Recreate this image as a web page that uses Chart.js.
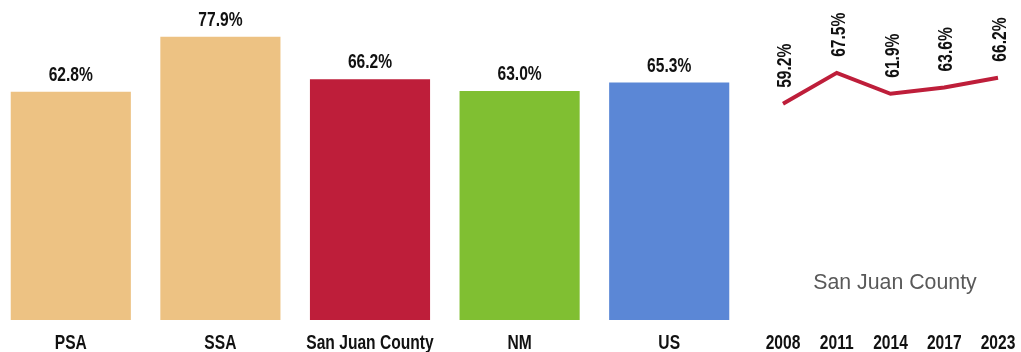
<!DOCTYPE html>
<html>
<head>
<meta charset="utf-8">
<script src="https://cdn.jsdelivr.net/npm/chart.js@4.4.1/dist/chart.umd.min.js"></script>
<style>
  html, body { margin: 0; padding: 0; background: #fff; overflow: hidden; }
  #barBox { position: absolute; left: -4px; top: 0; width: 748px; height: 352px; }
  #lineBox { position: absolute; left: 760px; top: 0; width: 261px; height: 352px; }
</style>
</head>
<body>
<div id="barBox"><canvas id="barChart"></canvas></div>
<div id="lineBox"><canvas id="lineChart"></canvas></div>
<script>
// bar chart data
const areas = ["PSA", "SSA", "San Juan County", "NM", "US"];
const areaValues = [62.8, 77.9, 66.2, 63.0, 65.3];
const areaColors = ["#EDC283", "#EDC283", "#BE1E3A", "#80BF32", "#5B87D6"];

// trend data (San Juan County)
const years = ["2008", "2011", "2014", "2017", "2023"];
const trendValues = [59.2, 67.5, 61.9, 63.6, 66.2];
const trendTitle = "San Juan County";

// no Arial Narrow here, so squeeze Liberation Sans Bold like Arial Narrow does
const boldFont = 'bold 19.5px "Liberation Sans", Arial, sans-serif';
const squeeze = 0.8;

function narrowText(ctx, txt, x, y, rotate, align) {
    ctx.save();
    ctx.translate(x, y);
    if (rotate) ctx.rotate(-Math.PI / 2);
    ctx.scale(squeeze, 1);
    ctx.font = boldFont;
    ctx.fillStyle = "#111";
    ctx.textAlign = align;
    ctx.textBaseline = "alphabetic";
    ctx.fillText(txt, 0, 0);
    ctx.restore();
}

// % labels above bars / points, and the category labels under the plot
const valueLabels = {
    id: "valueLabels",
    afterDatasetsDraw(chart, args, opts) {
        const ctx = chart.ctx;
        const meta = chart.getDatasetMeta(0);
        const data = chart.data.datasets[0].data;
        meta.data.forEach((el, i) => {
            const txt = data[i].toFixed(1) + "%";
            if (opts.rotate) {
                narrowText(ctx, txt, el.x + 8, el.y - 16, true, "left");
            } else {
                narrowText(ctx, txt, el.x, el.y - 11, false, "center");
            }
        });
        const xs = chart.scales.x;
        chart.data.labels.forEach((lab, i) => {
            narrowText(ctx, lab, xs.getPixelForTick(i), 349, false, "center");
        });
    }
};

// gray caption inside the small chart
const captionText = {
    id: "captionText",
    afterDraw(chart, args, opts) {
        if (!opts.text) return;
        const ctx = chart.ctx;
        ctx.save();
        ctx.fillStyle = "#595959";
        ctx.font = '21.3px "Liberation Sans", Arial, sans-serif';
        ctx.textAlign = "center";
        ctx.textBaseline = "middle";
        ctx.fillText(opts.text, opts.x, opts.y);
        ctx.restore();
    }
};

new Chart(document.getElementById("barChart"), {
    type: "bar",
    data: {
        labels: areas,
        datasets: [{
            data: areaValues,
            backgroundColor: areaColors,
            barPercentage: 0.803,
            categoryPercentage: 1
        }]
    },
    options: {
        responsive: true,
        maintainAspectRatio: false,
        animation: false,
        layout: { padding: { left: 0, right: 0, top: 0, bottom: 32 } },
        plugins: {
            legend: { display: false },
            tooltip: { enabled: false },
            valueLabels: { rotate: false },
            captionText: {}
        },
        scales: {
            x: { display: false },
            y: { display: false, min: 0, max: 88 }
        }
    },
    plugins: [valueLabels, captionText]
});

new Chart(document.getElementById("lineChart"), {
    type: "line",
    data: {
        labels: years,
        datasets: [{
            data: trendValues,
            borderColor: "#BE1E3A",
            borderWidth: 4,
            pointRadius: 0,
            tension: 0,
            fill: false
        }]
    },
    options: {
        responsive: true,
        maintainAspectRatio: false,
        animation: false,
        layout: { padding: { left: 23, right: 23, top: 0, bottom: 27 } },
        plugins: {
            legend: { display: false },
            tooltip: { enabled: false },
            valueLabels: { rotate: true },
            captionText: { text: trendTitle, x: 135, y: 283 }
        },
        scales: {
            x: { display: false, offset: false },
            y: { display: false, min: 0, max: 87 }
        }
    },
    plugins: [valueLabels, captionText]
});
</script>
</body>
</html>
